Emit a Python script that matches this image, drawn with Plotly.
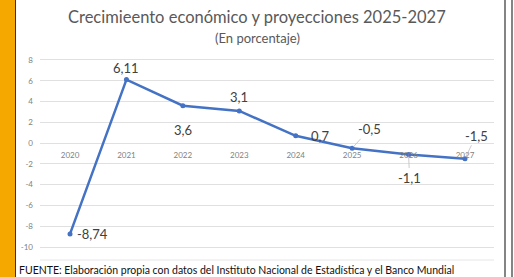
import plotly.graph_objects as go

years = ["2020", "2021", "2022", "2023", "2024", "2025", "2026", "2027"]
growth = [-8.74, 6.11, 3.6, 3.1, 0.7, -0.5, -1.1, -1.5]
labels = ["-8,74", "6,11", "3,6", "3,1", "0,7", "-0,5", "-1,1", "-1,5"]
y_ticks = [8, 6, 4, 2, 0, -2, -4, -6, -8, -10]

W, H = 514, 277
ymin, ymax = -11.25, 9.5
dom_y = [(H - 260) / H, (H - 44.4) / H]
dom_x = [40 / W, 494 / W]
zero_pos = dom_y[0] + (0 - ymin) / (ymax - ymin) * (dom_y[1] - dom_y[0])

FONT = "Lato"
BLUE = "#4472C4"

fig = go.Figure()
fig.add_trace(go.Scatter(
    x=years, y=growth, mode="lines+markers",
    line=dict(color=BLUE, width=2.5),
    marker=dict(color=BLUE, size=5),
    hoverinfo="skip", showlegend=False,
))

offsets = {
    0: dict(xshift=22, yshift=0),
    1: dict(xshift=0, yshift=12),
    2: dict(xshift=0, yshift=-24),
    3: dict(xshift=0, yshift=14),
    4: dict(xshift=24, yshift=0),
}
arrows = {5: (17, -19), 6: (1, 23), 7: (11, -23)}
for i, (yr, v, t) in enumerate(zip(years, growth, labels)):
    if i in offsets:
        fig.add_annotation(x=i, y=v, xref="x", yref="y", text=t, showarrow=False,
                           font=dict(family=FONT, size=13, color="#404040"), **offsets[i])
    else:
        ax, ay = arrows[i]
        fig.add_annotation(x=i, y=v, xref="x", yref="y", text=t, showarrow=True,
                           arrowhead=0, arrowwidth=0.8, arrowcolor="#bfbfbf",
                           ax=ax, ay=ay, standoff=2,
                           font=dict(family=FONT, size=13, color="#404040"))

fig.add_annotation(x=0.5, y=(H - 17) / H, xref="paper", yref="paper",
                   text="Crecimieento económico y proyecciones 2025-2027", showarrow=False,
                   font=dict(family=FONT, size=16.5, color="#595959"), xanchor="center", yanchor="middle")
fig.add_annotation(x=0.5, y=(H - 38) / H, xref="paper", yref="paper",
                   text="(En porcentaje)", showarrow=False,
                   font=dict(family=FONT, size=13, color="#595959"), xanchor="center", yanchor="middle")
fig.add_annotation(x=17 / W, y=(H - 270) / H, xref="paper", yref="paper",
                   text="FUENTE: Elaboración propia con datos del Instituto Nacional de Estadística y el Banco Mundial",
                   showarrow=False, font=dict(family=FONT, size=10.5, color="#111111"),
                   xanchor="left", yanchor="middle")

shapes = [
    dict(type="rect", xref="paper", yref="paper", x0=0, x1=15 / W, y0=0, y1=1,
         fillcolor="#F5A800", line=dict(width=0), layer="below"),
    dict(type="line", xref="paper", yref="paper", x0=15.5 / W, x1=15.5 / W, y0=0, y1=1,
         line=dict(color="#333333", width=1)),
    dict(type="line", xref="paper", yref="paper", x0=505 / W, x1=505 / W, y0=0, y1=1,
         line=dict(color="#333333", width=1.2)),
    dict(type="line", xref="paper", yref="paper", x0=512 / W, x1=512 / W, y0=0, y1=1,
         line=dict(color="#333333", width=1.2)),
    dict(type="line", xref="paper", yref="paper", x0=40 / W, x1=494 / W,
         y0=(H - 260) / H, y1=(H - 260) / H, line=dict(color="#e6e6e6", width=1)),
]

fig.update_layout(
    width=W, height=H, margin=dict(l=0, r=0, t=0, b=0),
    paper_bgcolor="white", plot_bgcolor="white",
    shapes=shapes,
    xaxis=dict(domain=dom_x, type="category", range=[-0.532, 7.514],
               anchor="free", position=zero_pos, showline=False, showgrid=False,
               ticks="", ticklabelstandoff=6,
               tickfont=dict(family=FONT, size=8, color="#7f7f7f"),
               zeroline=False, fixedrange=True),
    yaxis=dict(domain=dom_y, range=[ymin, ymax], tickvals=y_ticks,
               ticktext=[str(v) for v in y_ticks],
               showgrid=True, gridcolor="#e0e0e0", gridwidth=1,
               zeroline=False, showline=False, ticks="", ticklabelstandoff=6,
               tickfont=dict(family=FONT, size=8, color="#7f7f7f"), fixedrange=True),
)

fig.write_html("out.html", config={"displayModeBar": False},
               post_script="document.body.style.margin='0';document.body.style.overflow='hidden';")
